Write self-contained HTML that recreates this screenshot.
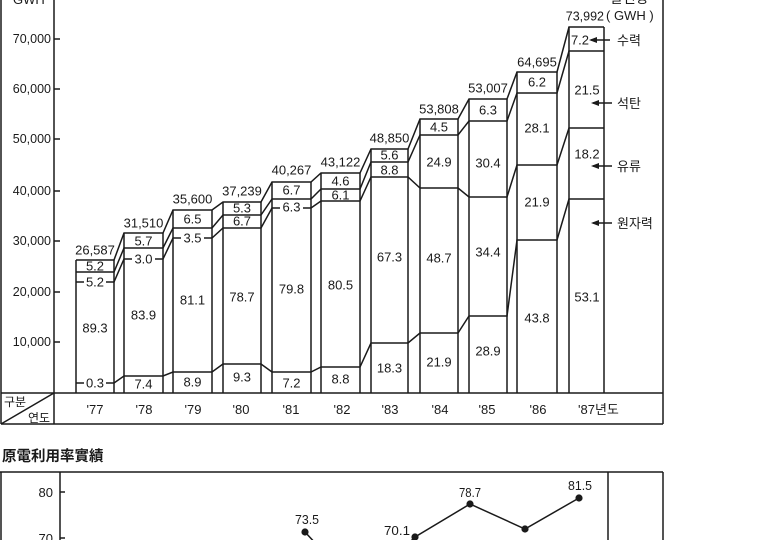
<!DOCTYPE html>
<html><head><meta charset="utf-8"><style>
html,body{margin:0;padding:0;background:#fff;}
svg{display:block;}
text{font-family:"Liberation Sans","Noto Sans CJK KR",sans-serif;fill:#1a1a1a;}
</style></head><body>
<svg width="770" height="540" viewBox="0 0 770 540" xmlns="http://www.w3.org/2000/svg">
<rect width="770" height="540" fill="#fff"/>
<g stroke="#1a1a1a" stroke-width="1.5" fill="none">
<!-- frame -->
<line x1="1" y1="0" x2="1" y2="424"/>
<line x1="663" y1="0" x2="663" y2="424"/>
<line x1="1" y1="424" x2="663" y2="424"/>
<line x1="1" y1="393" x2="663" y2="393"/>
<line x1="54" y1="0" x2="54" y2="424"/>
<line x1="1" y1="424" x2="54" y2="393"/>
<!-- y ticks -->
<line x1="54" y1="39" x2="60" y2="39"/>
<line x1="54" y1="89" x2="60" y2="89"/>
<line x1="54" y1="139" x2="60" y2="139"/>
<line x1="54" y1="191" x2="60" y2="191"/>
<line x1="54" y1="241" x2="60" y2="241"/>
<line x1="54" y1="292" x2="60" y2="292"/>
<line x1="54" y1="342" x2="60" y2="342"/>
<!-- bar verticals -->
<line x1="76" y1="260" x2="76" y2="393"/><line x1="114" y1="260" x2="114" y2="393"/>
<line x1="124" y1="233" x2="124" y2="393"/><line x1="163" y1="233" x2="163" y2="393"/>
<line x1="173" y1="210" x2="173" y2="393"/><line x1="212" y1="210" x2="212" y2="393"/>
<line x1="223" y1="202" x2="223" y2="393"/><line x1="261" y1="202" x2="261" y2="393"/>
<line x1="272" y1="182" x2="272" y2="393"/><line x1="311" y1="182" x2="311" y2="393"/>
<line x1="321" y1="173" x2="321" y2="393"/><line x1="360" y1="173" x2="360" y2="393"/>
<line x1="371" y1="149" x2="371" y2="393"/><line x1="408" y1="149" x2="408" y2="393"/>
<line x1="420" y1="119" x2="420" y2="393"/><line x1="458" y1="119" x2="458" y2="393"/>
<line x1="469" y1="99" x2="469" y2="393"/><line x1="507" y1="99" x2="507" y2="393"/>
<line x1="517" y1="72" x2="517" y2="393"/><line x1="557" y1="72" x2="557" y2="393"/>
<line x1="569" y1="27" x2="569" y2="393"/><line x1="604" y1="27" x2="604" y2="393"/>
<!-- level polylines -->
<polyline points="76,260 114,260 124,233 163,233 173,210 212,210 223,202 261,202 272,182 311,182 321,173 360,173 371,149 408,149 420,119 458,119 469,99 507,99 517,72 557,72 569,27 604,27"/>
<polyline points="76,272 114,272 124,248 163,248 173,228 212,228 223,215 261,215 272,199 311,199 321,189 360,189 371,162 408,162 420,135 458,135 469,121 507,121 517,93 557,93 569,51 604,51"/>
<polyline points="76,282 114,282 124,259 163,259 173,238 212,238 223,228 261,228 272,208 311,208 321,201 360,201 371,177 408,177 420,188 458,188 469,197 507,197 517,165 557,165 569,128 604,128"/>
<polyline points="76,383 114,383 124,376 163,376 173,372 212,372 223,364 261,364 272,372 311,372 321,367 360,367 371,343 408,343 420,333 458,333 469,316 507,316 517,240 557,240 569,199 604,199"/>
<!-- legend arrows -->
<line x1="591" y1="40" x2="610" y2="40"/>
<line x1="593" y1="103" x2="612" y2="103"/>
<line x1="593" y1="166" x2="612" y2="166"/>
<line x1="593" y1="223" x2="612" y2="223"/>
</g>
<g fill="#1a1a1a">
<polygon points="589,40 597,37 597,43"/>
<polygon points="591,103 599,100 599,106"/>
<polygon points="591,166 599,163 599,169"/>
<polygon points="591,223 599,220 599,226"/>
</g>
<!-- white backgrounds for on-line labels -->
<g fill="#fff">
<rect x="84" y="276" width="22" height="12"/>
<rect x="84" y="377" width="22" height="12"/>
<rect x="132" y="253" width="23" height="12"/>
<rect x="181" y="232" width="23" height="12"/>
<rect x="280" y="202" width="23" height="12"/>
</g>
<!-- axis labels -->
<g font-size="12.5" text-anchor="end">
<text x="51" y="43">70,000</text>
<text x="51" y="93">60,000</text>
<text x="51" y="143">50,000</text>
<text x="51" y="195">40,000</text>
<text x="51" y="245">30,000</text>
<text x="51" y="296">20,000</text>
<text x="51" y="346">10,000</text>
</g>
<text x="13" y="4" font-size="13">GWH</text>
<text x="610" y="3" font-size="14">발전량</text>
<text x="606" y="20" font-size="13">( GWH )</text>
<!-- bar labels -->
<g font-size="13" text-anchor="middle">
<text x="95" y="254.5">26,587</text><text x="95" y="270.5">5.2</text><text x="95" y="286.5">5.2</text><text x="95" y="332.5">89.3</text><text x="95" y="387.5">0.3</text>
<text x="143.5" y="227.5">31,510</text><text x="143.5" y="245.5">5.7</text><text x="143.5" y="263.5">3.0</text><text x="143.5" y="319.5">83.9</text><text x="143.5" y="388.5">7.4</text>
<text x="192.5" y="203.5">35,600</text><text x="192.5" y="223.5">6.5</text><text x="192.5" y="242.5">3.5</text><text x="192.5" y="304.5">81.1</text><text x="192.5" y="386.5">8.9</text>
<text x="242" y="195.5">37,239</text><text x="242" y="212.5">5.3</text><text x="242" y="225.5">6.7</text><text x="242" y="301.5">78.7</text><text x="242" y="381.5">9.3</text>
<text x="291.5" y="174.5">40,267</text><text x="291.5" y="194.5">6.7</text><text x="291.5" y="211.5">6.3</text><text x="291.5" y="293.5">79.8</text><text x="291.5" y="387.5">7.2</text>
<text x="340.5" y="166.5">43,122</text><text x="340.5" y="185.5">4.6</text><text x="340.5" y="199.5">6.1</text><text x="340.5" y="289.5">80.5</text><text x="340.5" y="383.5">8.8</text>
<text x="389.5" y="142.5">48,850</text><text x="389.5" y="159.5">5.6</text><text x="389.5" y="174.5">8.8</text><text x="389.5" y="261.5">67.3</text><text x="389.5" y="372.5">18.3</text>
<text x="439" y="113.5">53,808</text><text x="439" y="131.5">4.5</text><text x="439" y="166.5">24.9</text><text x="439" y="262.5">48.7</text><text x="439" y="366.5">21.9</text>
<text x="488" y="92.5">53,007</text><text x="488" y="114.5">6.3</text><text x="488" y="167.5">30.4</text><text x="488" y="256.5">34.4</text><text x="488" y="355.5">28.9</text>
<text x="537" y="66.5">64,695</text><text x="537" y="86.5">6.2</text><text x="537" y="132.5">28.1</text><text x="537" y="206.5">21.9</text><text x="537" y="322.5">43.8</text>
<text x="580" y="44.5">7.2</text><text x="587" y="94.5">21.5</text><text x="587" y="158.5">18.2</text><text x="587" y="301.5">53.1</text>
</g>
<text x="604" y="20.5" font-size="12.5" text-anchor="end">73,992</text>
<!-- legend text -->
<g font-size="13">
<text x="617" y="45">수력</text>
<text x="617" y="108">석탄</text>
<text x="617" y="171">유류</text>
<text x="617" y="228">원자력</text>
</g>
<!-- table -->
<text x="4" y="406" font-size="12">구분</text>
<text x="28" y="422" font-size="12">연도</text>
<g font-size="13" text-anchor="middle">
<text x="95" y="414">'77</text>
<text x="144" y="414">'78</text>
<text x="193" y="414">'79</text>
<text x="241" y="414">'80</text>
<text x="291" y="414">'81</text>
<text x="342" y="414">'82</text>
<text x="390" y="414">'83</text>
<text x="440" y="414">'84</text>
<text x="487" y="414">'85</text>
<text x="538" y="414">'86</text>
</g>
<text x="578" y="414" font-size="13">'87년도</text>
<!-- second chart -->
<text x="2" y="461" font-size="14.5" font-weight="bold" font-family="'Noto Sans CJK TC','Noto Sans CJK SC',sans-serif">原電利用率實績</text>
<g stroke="#1a1a1a" stroke-width="1.5" fill="none">
<line x1="0" y1="472" x2="663" y2="472"/>
<line x1="1" y1="472" x2="1" y2="540"/>
<line x1="60" y1="472" x2="60" y2="540"/>
<line x1="608" y1="472" x2="608" y2="540"/>
<line x1="663" y1="472" x2="663" y2="540"/>
<line x1="60" y1="492" x2="65" y2="492"/>
<line x1="60" y1="538" x2="65" y2="538"/>
<polyline points="305,532 318,546"/>
<polyline points="404,548 415,537 470,504 525,529 579,498"/>
</g>
<g fill="#1a1a1a">
<circle cx="305" cy="532" r="3.6"/>
<circle cx="415" cy="537" r="3.6"/>
<circle cx="470" cy="504" r="3.6"/>
<circle cx="525" cy="529" r="3.6"/>
<circle cx="579" cy="498" r="3.6"/>
</g>
<g font-size="13" text-anchor="end">
<text x="53" y="497">80</text>
<text x="53" y="543">70</text>
</g>
<g font-size="13" text-anchor="middle">
<text x="307" y="524" textLength="24" lengthAdjust="spacingAndGlyphs">73.5</text>
<text x="397" y="535" textLength="26" lengthAdjust="spacingAndGlyphs">70.1</text>
<text x="470" y="497" textLength="22" lengthAdjust="spacingAndGlyphs">78.7</text>
<text x="527" y="550" textLength="24" lengthAdjust="spacingAndGlyphs">70.1</text>
<text x="580" y="490" textLength="24" lengthAdjust="spacingAndGlyphs">81.5</text>
</g>
</svg>
</body></html>
